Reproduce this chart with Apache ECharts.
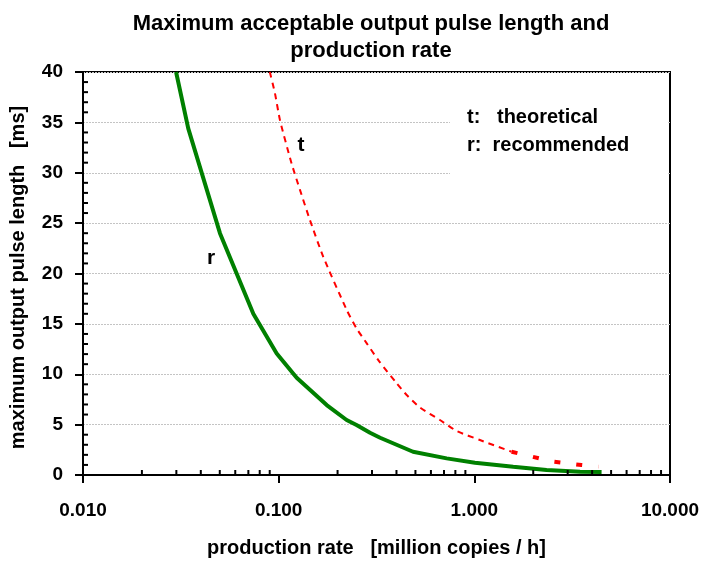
<!DOCTYPE html>
<html>
<head>
<meta charset="utf-8">
<script src="https://cdn.jsdelivr.net/npm/echarts@6/dist/echarts.min.js"></script>
<style>
html,body{margin:0;padding:0;background:#fff;}
#chart{width:704px;height:561px;}
</style>
</head>
<body>
<div id="chart"></div>
<script>
// ---- data ----
const titleText = 'Maximum acceptable output pulse length and\nproduction rate';
const xAxisName = 'production rate   [million copies / h]';
const yAxisName = 'maximum output pulse length   [ms]';

// recommended (r) curve: production rate [million copies/h], pulse length [ms]
const recRate  = [0.0299, 0.0345, 0.0501, 0.0742, 0.0977, 0.1236, 0.176, 0.2225, 0.250, 0.293, 0.330, 0.486, 0.722, 1.007, 1.58, 2.34, 3.47, 4.47];
const recPulse = [40.0,   34.4,   24.0,   16.0,   12.07,  9.65,   6.94,  5.46,   4.96,  4.2,   3.7,   2.31,  1.65,  1.22,  0.83, 0.5,  0.33, 0.3];

// theoretical (t) curve
const theoRate  = [0.0901, 0.0957, 0.1016, 0.1165, 0.1285, 0.1445, 0.169, 0.2225, 0.250, 0.282, 0.323, 0.401, 0.451, 0.527, 0.667, 0.812, 1.068, 1.55];
const theoPulse = [40.0,   37.9,   35.2,   30.9,   28.3,   25.3,   21.66, 16.4,   14.55, 13.07, 11.4,  9.1,   7.94,  6.71,  5.46,  4.37,  3.47,  2.31];
const theoTailRate  = [1.55, 1.85, 2.53, 3.53, 4.30];
const theoTailPulse = [2.31, 1.95, 1.32, 0.99, 0.83];

const xMin = 0.01, xMax = 10;
const yMin = 0, yMax = 40, yStep = 5;

// ---- build ----
const zip = (a, b) => a.map((v, i) => [v, b[i]]);

const xMinor = [];
for (let d = xMin; d < xMax - 1e-9; d *= 10) {
  for (let k = 2; k <= 9; k++) xMinor.push(+(d * k).toPrecision(3));
}
const yMinor = [];
for (let v = yMin + 1; v < yMax; v++) if (v % yStep !== 0) yMinor.push(v);

const minorData = xMinor.map(v => ['x', v]).concat(yMinor.map(v => ['y', v]));

const FF = 'Liberation Sans, Arial, sans-serif';
const bold = {fontFamily: FF, fontWeight: 'bold', color: '#000'};

const chart = echarts.init(document.getElementById('chart'), null, {renderer: 'canvas'});
chart.setOption({
  backgroundColor: '#fff',
  animation: false,
  title: {
    text: titleText,
    left: 366, top: 5, textAlign: 'center',
    textStyle: Object.assign({fontSize: 22, lineHeight: 27}, bold)
  },
  grid: {
    left: 83, right: 34, top: 72, bottom: 86,
    outerBoundsMode: 'none', containLabel: false,
    show: true, borderColor: '#000', borderWidth: 2, backgroundColor: '#fff'
  },
  xAxis: {
    type: 'log', logBase: 10, min: xMin, max: xMax,
    name: xAxisName, nameLocation: 'middle', nameGap: 63,
    nameTextStyle: Object.assign({fontSize: 20}, bold),
    axisLine: {lineStyle: {color: '#000', width: 2}},
    axisTick: {show: true, inside: false, length: 8, lineStyle: {color: '#000', width: 2}},
    axisLabel: Object.assign({fontSize: 19, margin: 26, formatter: v => v.toFixed(3)}, bold),
    splitLine: {show: false},
    minorTick: {show: false}
  },
  yAxis: {
    type: 'value', min: yMin, max: yMax, interval: yStep,
    name: yAxisName, nameLocation: 'middle', nameGap: 55, nameRotate: 90,
    nameTextStyle: Object.assign({fontSize: 20, padding: [0, 8, 0, 0]}, bold),
    axisLine: {show: true, lineStyle: {color: '#000', width: 2}},
    axisTick: {show: true, inside: false, length: 8, lineStyle: {color: '#000', width: 2}},
    axisLabel: Object.assign({fontSize: 19, margin: 20}, bold),
    splitLine: {show: true, lineStyle: {color: '#c4c4c4', width: 1, type: [2, 1]}}
  },
  series: [
    {
      type: 'custom', name: 'minorTicks', silent: true, z: 5,
      data: minorData,
      encode: {x: -1, y: -1},
      renderItem: function (params, api) {
        const axis = minorData[params.dataIndex][0];
        const v = minorData[params.dataIndex][1];
        let p, q;
        if (axis === 'x') {
          p = api.coord([v, yMin]);
          q = [p[0], p[1] - 5];
        } else {
          p = api.coord([xMin, v]);
          q = [p[0] + 5, p[1]];
        }
        return {
          type: 'line',
          shape: {x1: p[0], y1: p[1], x2: q[0], y2: q[1]},
          style: {stroke: '#000', lineWidth: 2}
        };
      }
    },
    {
      type: 'line', name: 'recommended', data: zip(recRate, recPulse),
      showSymbol: false, smooth: false, z: 3,
      lineStyle: {color: '#008000', width: 4}
    },
    {
      type: 'line', name: 'theoretical', data: zip(theoRate, theoPulse),
      showSymbol: false, smooth: 0.2, z: 3,
      lineStyle: {color: '#ff0000', width: 2, type: [6, 5]}
    },
    {
      type: 'line', name: 'theoretical tail', data: zip(theoTailRate, theoTailPulse),
      showSymbol: false, smooth: false, z: 3,
      lineStyle: {color: '#ff0000', width: 4, type: [6, 16]}
    }
  ],
  graphic: [
    {type: 'rect', z: 50, shape: {x: 450, y: 96, width: 218, height: 86}, style: {fill: '#fff'}},
    {type: 'text', z: 51, x: 467, y: 117, style: {text: 't:   theoretical', fontSize: 20, verticalAlign: 'middle', fill: '#000', fontFamily: FF, fontWeight: 'bold'}},
    {type: 'text', z: 51, x: 467, y: 145, style: {text: 'r:  recommended', fontSize: 20, verticalAlign: 'middle', fill: '#000', fontFamily: FF, fontWeight: 'bold'}},
    {type: 'text', z: 51, x: 301, y: 145, style: {text: 't', fontSize: 21, align: 'center', verticalAlign: 'middle', fill: '#000', fontFamily: FF, fontWeight: 'bold'}},
    {type: 'text', z: 51, x: 211, y: 258, style: {text: 'r', fontSize: 21, align: 'center', verticalAlign: 'middle', fill: '#000', fontFamily: FF, fontWeight: 'bold'}}
  ]
});
</script>
</body>
</html>
